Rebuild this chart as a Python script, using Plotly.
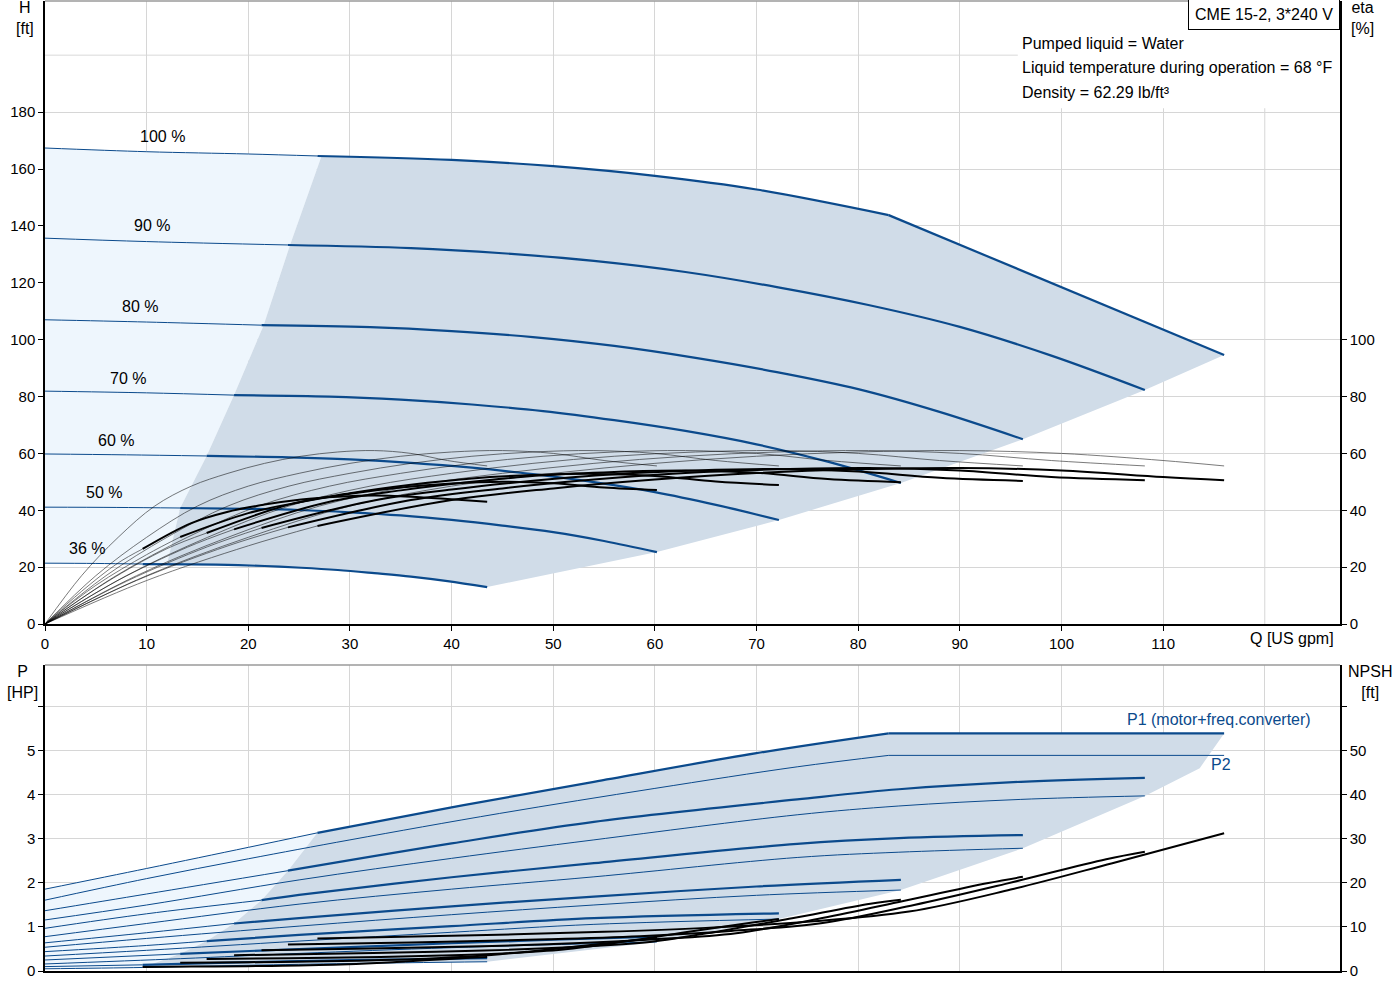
import plotly.graph_objects as go

# ---- data ------------------------------------------------------------------
speed_labels = ["100 %", "90 %", "80 %", "70 %", "60 %", "50 %", "36 %"]
label_q = [11.6, 10.5, 9.3, 8.2, 7.0, 5.8, 4.1]
label_h = [171.6, 140.0, 111.5, 86.5, 64.7, 46.4, 26.4]

# flow where each speed curve enters the operating area (thin -> thick)
q_start = [26.8, 23.9, 21.3, 18.6, 15.9, 13.3, 9.6]

# head curves H [ft]
h_q = [
    [0, 10, 20, 26.8, 40, 50, 60, 70, 83],
    [0, 10, 23.9, 36, 45, 54, 63, 72, 81, 90, 99, 108.2],
    [0, 10, 21.3, 32, 40, 48, 56, 64, 72, 80, 88, 96.2],
    [0, 10, 18.6, 28, 35, 42, 49, 56, 63, 70, 77, 84.2],
    [0, 8, 15.9, 24, 30, 36, 42, 48, 54, 60, 66, 72.2],
    [0, 7, 13.3, 20, 25, 30, 35, 40, 45, 50, 55, 60.2],
    [0, 5, 9.6, 14.4, 18, 21.6, 25.2, 28.8, 32.4, 36, 39.6, 43.5],
]
h_v = [
    [167.4, 166.1, 165.3, 164.6, 163.2, 161.0, 157.6, 152.8, 143.8],
    [135.7, 134.5, 133.3, 132.2, 130.4, 127.7, 123.8, 118.5, 112.2, 104.5, 94.4, 82.3],
    [107.0, 106.2, 105.1, 104.4, 103.0, 100.9, 97.8, 93.6, 88.6, 82.6, 74.6, 65.0],
    [81.9, 81.3, 80.5, 80.0, 78.9, 77.2, 74.9, 71.7, 67.9, 63.2, 57.1, 49.6],
    [59.8, 59.5, 59.1, 58.6, 57.9, 56.7, 55.0, 52.7, 49.9, 46.4, 41.9, 36.6],
    [41.1, 41.0, 40.8, 40.5, 40.1, 39.3, 38.2, 36.6, 34.6, 32.3, 29.2, 25.3],
    [21.4, 21.3, 21.1, 21.0, 20.8, 20.4, 19.8, 19.0, 17.9, 16.7, 15.1, 13.0],
]
# power limit part of the 100 % head curve
h_lim_q = [83, 116]
h_lim_v = [143.8, 94.6]

# left edge of the operating area in the H chart
h_edge_q = [12.0, 13.3, 15.9, 18.6, 21.5, 24.1, 27.2]
h_edge_v = [21.0, 40.8, 59.1, 80.5, 105.0, 133.2, 164.5]

# pump efficiency [%] (thin curves), same values for every speed
eta_pump = [0, 17, 30.5, 41.5, 48.5, 53, 56.5, 59, 60.5, 61, 60, 57.5, 55.6]
eta_pump_q = [
    [0, 10, 20, 30, 40, 50, 60, 70, 80, 90, 100, 110, 116],
    [0, 9, 18, 27, 36, 45, 54, 63, 72, 81, 90, 99, 108.2],
    [0, 8, 16, 24, 32, 40, 48, 56, 64, 72, 80, 88, 96.2],
    [0, 7, 14, 21, 28, 35, 42, 49, 56, 63, 70, 77, 84.2],
    [0, 6, 12, 18, 24, 30, 36, 42, 48, 54, 60, 66, 72.2],
    [0, 5, 10, 15, 20, 25, 30, 35, 40, 45, 50, 55, 60.2],
    [0, 3.6, 7.2, 10.8, 14.4, 18, 21.6, 25.2, 28.8, 32.4, 36, 39.6, 43.5],
]

# total efficiency [%] (thin, then thick inside operating area)
eta_tot_q = [
    [0, 10, 20, 26.8, 40, 50, 60, 70, 80, 90, 100, 110, 116],
    [0, 9, 18, 23.9, 36, 45, 54, 63, 72, 81, 90, 99, 108.2],
    [0, 8, 16, 21.3, 32, 40, 48, 56, 64, 72, 80, 88, 96.2],
    [0, 7, 14, 18.6, 28, 35, 42, 49, 56, 63, 70, 77, 84.2],
    [0, 6, 12, 15.9, 24, 30, 36, 42, 48, 54, 60, 66, 72.2],
    [0, 5, 10, 13.3, 20, 25, 30, 35, 40, 45, 50, 55, 60.2],
    [0, 3.6, 7.2, 9.6, 14.4, 18, 21.6, 25.2, 28.8, 32.4, 36, 39.6, 43.5],
]
eta_tot_v = [
    [0, 15.3, 27.5, 34.5, 43.6, 47.7, 50.8, 53.1, 54.4, 54.9, 54.0, 51.7, 50.6],
    [0, 15.3, 27.5, 34.0, 43.6, 47.7, 50.8, 53.1, 54.4, 54.9, 54.0, 51.7, 50.6],
    [0, 15.0, 27.2, 33.8, 43.2, 47.3, 50.4, 52.7, 54.0, 54.5, 53.6, 51.4, 50.3],
    [0, 15.0, 27.0, 33.3, 43.0, 47.0, 50.0, 52.3, 53.5, 54.0, 53.2, 51.0, 49.9],
    [0, 14.6, 26.5, 32.0, 42.0, 46.0, 49.0, 51.2, 52.4, 52.8, 52.1, 50.1, 48.9],
    [0, 13.6, 24.4, 30.6, 39.0, 42.8, 45.8, 48.0, 49.4, 50.0, 49.5, 48.0, 47.1],
    [0, 11.5, 21.5, 26.4, 35.5, 39.5, 42.0, 43.8, 44.8, 45.2, 44.8, 44.0, 43.0],
]

# P1 (motor + freq. converter) [HP]
p1_q = [
    [0, 10, 20, 26.8, 40, 54, 70, 83],
    [0, 10, 23.9, 40, 54, 74, 84, 96, 108.2],
    [0, 10, 21.3, 25, 40, 54, 74, 84, 96.2],
    [0, 10, 18.6, 25, 40, 54, 70, 84.2],
    [0, 10, 15.9, 25, 40, 54, 72.2],
    [0, 13.3, 25, 40, 50, 60.2],
    [0, 9.6, 20, 30, 43.5],
]
p1_v = [
    [1.86, 2.33, 2.81, 3.14, 3.72, 4.30, 4.95, 5.40],
    [1.37, 1.75, 2.28, 2.90, 3.39, 3.90, 4.13, 4.30, 4.39],
    [0.97, 1.30, 1.61, 1.73, 2.13, 2.45, 2.89, 3.02, 3.09],
    [0.64, 0.87, 1.08, 1.20, 1.47, 1.69, 1.92, 2.07],
    [0.44, 0.58, 0.68, 0.82, 1.02, 1.20, 1.31],
    [0.25, 0.39, 0.50, 0.63, 0.71, 0.78],
    [0.10, 0.14, 0.20, 0.25, 0.29],
]
p1_lim_q = [83, 116]
p1_lim_v = [5.40, 5.40]

# P2 (shaft) [HP]
p2_q = [
    [0, 10, 20, 30, 44.7, 60, 74, 83],
    [0, 10, 25, 40, 54, 74, 84, 96, 108.2],
    [0, 10, 25, 40, 54, 74, 84, 96.2],
    [0, 10, 25, 40, 54, 70, 84.2],
    [0, 10, 25, 40, 54, 72.2],
    [0, 13.3, 25, 40, 60.2],
    [0, 9.6, 20, 30, 43.5],
]
p2_v = [
    [1.61, 2.10, 2.55, 2.98, 3.58, 4.15, 4.64, 4.90],
    [1.16, 1.50, 2.07, 2.56, 2.98, 3.55, 3.75, 3.90, 3.98],
    [0.78, 1.08, 1.52, 1.86, 2.14, 2.58, 2.70, 2.79],
    [0.54, 0.74, 1.02, 1.28, 1.50, 1.72, 1.84],
    [0.34, 0.47, 0.68, 0.88, 1.06, 1.18],
    [0.16, 0.28, 0.40, 0.53, 0.66],
    [0.05, 0.08, 0.13, 0.17, 0.21],
]
p2_lim_q = [83, 116]
p2_lim_v = [4.90, 4.90]

# operating area edges in the P chart
p_edge_q = [9.6, 13.3, 15.9, 18.6, 21.3, 23.9, 26.8]
p_edge_v = [0.08, 0.39, 0.68, 1.08, 1.61, 2.28, 3.14]
p_right_q = [43.5, 60.2, 72.2, 84.2, 96.2, 108.2, 113.6, 116]
p_right_v = [0.21, 0.66, 1.18, 1.84, 2.79, 3.98, 4.61, 5.40]

# NPSH [ft]
npsh_q = [
    [26.8, 40, 55, 65, 75, 85, 95, 105, 116],
    [23.9, 36, 49.5, 58.5, 67.5, 76.5, 85.5, 94.5, 104.4, 108.2],
    [21.3, 32, 44, 52, 60, 68, 76, 84, 92.8, 96.2],
    [18.6, 28, 38.5, 45.5, 52.5, 59.5, 66.5, 73.5, 81.2, 84.2],
    [15.9, 24, 33, 39, 45, 51, 57, 63, 69.6, 72.2],
    [13.3, 20, 27.5, 32.5, 37.5, 42.5, 47.5, 52.5, 58, 60.2],
    [9.6, 14.4, 19.8, 23.4, 27, 30.6, 34.2, 37.8, 41.8, 43.5],
]
npsh_v = [
    [7.4, 8.0, 8.9, 9.8, 11.2, 13.5, 18.5, 24.5, 31.3],
    [6.0, 6.5, 7.2, 7.9, 9.1, 10.9, 15.0, 19.8, 25.4, 27.1],
    [4.7, 5.1, 5.7, 6.3, 7.2, 8.6, 11.8, 15.7, 20.0, 21.4],
    [3.6, 3.9, 4.4, 4.8, 5.5, 6.6, 9.1, 12.0, 15.3, 16.2],
    [2.7, 2.9, 3.2, 3.5, 4.0, 4.9, 6.7, 8.8, 11.0, 11.8],
    [1.85, 2.0, 2.2, 2.45, 2.8, 3.4, 4.4, 5.6, 7.0, 7.5],
    [0.9, 1.0, 1.1, 1.2, 1.35, 1.6, 2.0, 2.5, 3.0, 3.2],
]

# ---- styling ----------------------------------------------------------------
BLUE = "#0B4A8C"
DARK_FILL = "#D0DCE8"
LIGHT_FILL = "#EEF6FD"
GRID = "#D6D6D6"
FONT = "Liberation Sans, Arial, sans-serif"
TXT = 16  # annotation text size

Q_MAX = 127.4
H_MAX = 219.1
P_MAX = 6.955

fig = go.Figure()


def split(q, v, q0):
    thin = [(a, b) for a, b in zip(q, v) if a <= q0]
    thick = [(a, b) for a, b in zip(q, v) if a >= q0]
    return thin, thick


def add_line(pts, xa, ya, color, width, shape="spline", opacity=1.0):
    if len(pts) < 2:
        return
    fig.add_trace(go.Scatter(
        x=[p[0] for p in pts], y=[p[1] for p in pts],
        xaxis=xa, yaxis=ya, mode="lines", opacity=opacity,
        line=dict(color=color, width=width, shape=shape),
        hoverinfo="skip",
    ))


def add_fill(xs, ys, xa, ya, color):
    fig.add_trace(go.Scatter(
        x=xs, y=ys, xaxis=xa, yaxis=ya, mode="lines", fill="toself",
        fillcolor=color, line=dict(width=0), hoverinfo="skip",
    ))


# ---- top chart: areas -------------------------------------------------------
q100, h100 = h_q[0], h_v[0]
q36, h36 = h_q[6], h_v[6]
edge_top_q, edge_bot_q = h_edge_q[-1], h_edge_q[0]

lx = [a for a in q100 if a < edge_top_q] + h_edge_q[::-1] + [a for a in q36 if a < edge_bot_q][::-1]
ly = [b for a, b in zip(q100, h100) if a < edge_top_q] + h_edge_v[::-1] + \
     [b for a, b in zip(q36, h36) if a < edge_bot_q][::-1]
add_fill(lx, ly, "x", "y", LIGHT_FILL)

ends_q = [h_lim_q[-1]] + [q[-1] for q in h_q[1:]]
ends_h = [h_lim_v[-1]] + [v[-1] for v in h_v[1:]]
dx = h_edge_q + [a for a in q100 if a > edge_top_q] + h_lim_q[1:] + ends_q[1:] + \
     [a for a in q36 if edge_bot_q < a < q36[-1]][::-1]
dy = h_edge_v + [b for a, b in zip(q100, h100) if a > edge_top_q] + h_lim_v[1:] + ends_h[1:] + \
     [b for a, b in zip(q36, h36) if edge_bot_q < a < q36[-1]][::-1]
add_fill(dx, dy, "x", "y", DARK_FILL)

# ---- top chart: efficiency curves --------------------------------------------
for q in eta_pump_q:
    add_line(list(zip(q, eta_pump)), "x", "y2", "black", 0.8, opacity=0.65)
for i in range(7):
    thin, thick = split(eta_tot_q[i], eta_tot_v[i], q_start[i])
    add_line(thin, "x", "y2", "black", 0.8, opacity=0.65)
    add_line(thick, "x", "y2", "black", 2)

# ---- top chart: head curves --------------------------------------------------
for i in range(7):
    thin, thick = split(h_q[i], h_v[i], q_start[i])
    add_line(thin, "x", "y", BLUE, 1)
    add_line(thick, "x", "y", BLUE, 2.2)
add_line(list(zip(h_lim_q, h_lim_v)), "x", "y", BLUE, 2.2, shape="linear")

# ---- bottom chart: areas -----------------------------------------------------
pq100, pv100 = p1_q[0], p1_v[0]
pq36, pv36 = p2_q[6], p2_v[6]
pe_top, pe_bot = p_edge_q[-1], p_edge_q[0]

lx = [a for a in pq100 if a < pe_top] + p_edge_q[::-1] + [a for a in pq36 if a < pe_bot][::-1]
ly = [b for a, b in zip(pq100, pv100) if a < pe_top] + p_edge_v[::-1] + \
     [b for a, b in zip(pq36, pv36) if a < pe_bot][::-1]
add_fill(lx, ly, "x2", "y3", LIGHT_FILL)

dx = p_edge_q + [a for a in pq100 if a > pe_top] + p1_lim_q[1:] + p_right_q[::-1][1:] + \
     [a for a in pq36 if pe_bot < a < pq36[-1]][::-1]
dy = p_edge_v + [b for a, b in zip(pq100, pv100) if a > pe_top] + p1_lim_v[1:] + p_right_v[::-1][1:] + \
     [b for a, b in zip(pq36, pv36) if pe_bot < a < pq36[-1]][::-1]
add_fill(dx, dy, "x2", "y3", DARK_FILL)

# ---- bottom chart: NPSH ------------------------------------------------------
for q, v in zip(npsh_q, npsh_v):
    add_line(list(zip(q, v)), "x2", "y4", "black", 2)

# ---- bottom chart: power curves ----------------------------------------------
for i in range(7):
    add_line(list(zip(p2_q[i], p2_v[i])), "x2", "y3", BLUE, 1)
    thin, thick = split(p1_q[i], p1_v[i], q_start[i])
    add_line(thin, "x2", "y3", BLUE, 1)
    add_line(thick, "x2", "y3", BLUE, 2.2)
add_line(list(zip(p2_lim_q, p2_lim_v)), "x2", "y3", BLUE, 1, shape="linear")
add_line(list(zip(p1_lim_q, p1_lim_v)), "x2", "y3", BLUE, 2.2, shape="linear")

# ---- axes ----------------------------------------------------------------------
TOP_DOM = [0.3577, 1.0]
BOT_DOM = [0.0, 0.3155]
axis_common = dict(showline=True, linecolor="black", linewidth=1.5, zeroline=False,
                   tickcolor="black", ticklen=5, tickfont=dict(size=15, color="black"))

fig.update_layout(
    width=1400, height=1000,
    margin=dict(l=45, r=60, t=1, b=29),
    paper_bgcolor="white", plot_bgcolor="white",
    showlegend=False,
    font=dict(family=FONT, size=TXT, color="black"),
    xaxis=dict(domain=[0, 1], anchor="y", range=[0, Q_MAX],
               tickvals=list(range(0, 111, 10)), ticks="outside",
               showgrid=True, gridcolor=GRID, **axis_common),
    yaxis=dict(domain=TOP_DOM, anchor="x", range=[0, H_MAX],
               tickvals=list(range(0, 181, 20)), ticks="outside",
               showgrid=True, gridcolor=GRID, **axis_common),
    yaxis2=dict(overlaying="y", side="right", anchor="x", range=[0, H_MAX],
                tickvals=list(range(0, 101, 20)), ticks="outside",
                showgrid=False, **axis_common),
    xaxis2=dict(domain=[0, 1], anchor="y3", range=[0, Q_MAX],
                tickvals=list(range(0, 121, 10)), showticklabels=False, ticks="",
                showgrid=True, gridcolor=GRID, **axis_common),
    yaxis3=dict(domain=BOT_DOM, anchor="x2", range=[0, P_MAX],
                tickvals=list(range(0, 7)), ticktext=["0", "1", "2", "3", "4", "5", ""],
                ticks="outside", showgrid=True, gridcolor=GRID, **axis_common),
    yaxis4=dict(overlaying="y3", side="right", anchor="x2", range=[0, P_MAX * 10],
                tickvals=list(range(0, 61, 10)),
                ticktext=["0", "10", "20", "30", "40", "50", ""],
                ticks="outside", showgrid=False, **axis_common),
)

shapes = [
    # extra grid lines without ticks
    dict(type="line", xref="x", yref="y", x0=120, x1=120, y0=0, y1=H_MAX,
         line=dict(color=GRID, width=1), layer="below"),
    dict(type="line", xref="x", yref="y", x0=0, x1=Q_MAX, y0=200, y1=200,
         line=dict(color="#E6E6E6", width=1.5), layer="below"),
    # white panel behind the info text
    dict(type="rect", xref="x", yref="y", x0=95.7, x1=Q_MAX, y0=181.4, y1=H_MAX,
         fillcolor="white", line=dict(width=0), layer="between"),
    # grey top borders
    dict(type="line", xref="paper", yref="paper", x0=0, x1=1, y0=TOP_DOM[1], y1=TOP_DOM[1],
         line=dict(color="#9A9A9A", width=1.5)),
    dict(type="line", xref="paper", yref="paper", x0=0, x1=1, y0=BOT_DOM[1], y1=BOT_DOM[1],
         line=dict(color="#9A9A9A", width=1.5)),
]
fig.update_layout(shapes=shapes)

ann = []
for lab, x, y in zip(speed_labels, label_q, label_h):
    ann.append(dict(x=x, y=y, xref="x", yref="y", text=lab, showarrow=False))


def px_x(px):
    return (px - 45) / 1295.0


def px_y(py):
    return (971 - py) / 970.0


ann += [
    dict(x=px_x(25), y=px_y(-3), xref="paper", yref="paper", text="H<br>[ft]",
         showarrow=False, xanchor="center", yanchor="top"),
    dict(x=px_x(1362), y=px_y(-3), xref="paper", yref="paper", text="eta<br>[%]",
         showarrow=False, xanchor="center", yanchor="top"),
    dict(x=px_x(22), y=px_y(661), xref="paper", yref="paper", text="P<br>[HP]",
         showarrow=False, xanchor="center", yanchor="top"),
    dict(x=px_x(1370), y=px_y(661), xref="paper", yref="paper", text="NPSH<br>[ft]",
         showarrow=False, xanchor="center", yanchor="top"),
    dict(x=px_x(1292), y=px_y(638), xref="paper", yref="paper", text="Q [US gpm]",
         showarrow=False, xanchor="center", yanchor="middle"),
    dict(x=px_x(1340), y=px_y(-1), xref="paper", yref="paper", text="CME 15-2, 3*240 V",
         showarrow=False, xanchor="right", yanchor="top", bgcolor="white",
         bordercolor="black", borderwidth=1, borderpad=6),
    dict(x=px_x(1020), y=px_y(44), xref="paper", yref="paper", text="Pumped liquid = Water",
         showarrow=False, xanchor="left", yanchor="middle"),
    dict(x=px_x(1020), y=px_y(68), xref="paper", yref="paper",
         text="Liquid temperature during operation = 68 °F",
         showarrow=False, xanchor="left", yanchor="middle"),
    dict(x=px_x(1020), y=px_y(92), xref="paper", yref="paper", text="Density = 62.29 lb/ft³",
         showarrow=False, xanchor="left", yanchor="middle"),
    dict(x=px_x(1313), y=px_y(719), xref="paper", yref="paper",
         text="P1 (motor+freq.converter)", showarrow=False, xanchor="right",
         yanchor="middle", font=dict(color=BLUE)),
    dict(x=px_x(1233), y=px_y(764), xref="paper", yref="paper", text="P2",
         showarrow=False, xanchor="right", yanchor="middle", font=dict(color=BLUE)),
]
fig.update_layout(annotations=ann)

# page body margin would shift the figure by 8px
fig.write_html("out.html", config={"displayModeBar": False},
               post_script="document.body.style.margin='0px';")
